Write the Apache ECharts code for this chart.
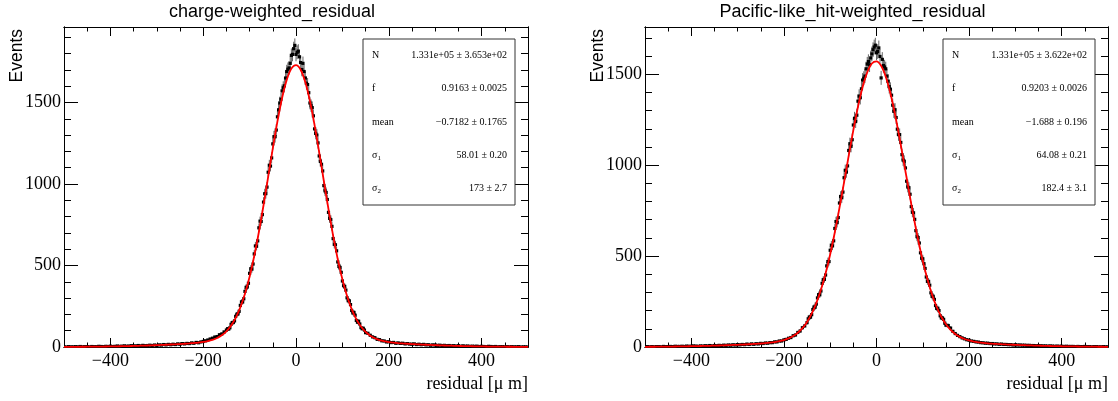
<!DOCTYPE html>
<html><head><meta charset="utf-8">
<script src="https://cdn.jsdelivr.net/npm/echarts@6/dist/echarts.min.js"></script>
<style>html,body{margin:0;padding:0;background:#fff}#c{width:1118px;height:401px}</style>
</head><body><div id="c"></div>
<script>
// ---------------- data ----------------
const panelTitles = ['charge-weighted_residual', 'Pacific-like_hit-weighted_residual'];
const xTickValues = [-400, -200, 0, 200, 400];
const yTickValues = [0, 500, 1000, 1500];
const yMaxValues = [1963, 1760];
const binStart = -500, binStep = 5;     // bin centres over the full range (µm)
const coreStart = -147.5, coreStep = 5; // extra bin centres in the core (µm)
const fitStart = -500, fitStep = 10;    // fit curve sample points (µm)

const countsCharge = [
 1,0,2,1,1,2,1,3,1,2, 2,1,3,2,2,4,3,2,4,3, 5,3,4,6,4,5,7,5,6,8, 6,7,9,7,10,8,9,11,9,12, 10,13,12,15,13,16,14,17,15,19,
 17,21,19,22,21,25,23,28,26,31, 34,38,43,49,54,61,64,75,80,92, 104,110,139,150,188,203,255,276,341,368,
 452,478,571,618,731,770,889,941,1072,1110, 1246,1290,1412,1497,1571,1602,1690,1712,1789,1830,
 1795,
 1815,1745,1740,1650,1610,1497,1468,1338,1300,1172, 1121,990,948,826,781,665,627,522,488,405,
 372,302,283,224,212,163,158,119,115,88, 84,72,62,57,47,45,38,37,31,32,
 27,28,23,25,22,23,19,21,18,17, 19,15,17,14,16,13,14,11,13,12,
 10,11,9,10,8,9,7,8,6,8, 5,7,5,6,4,5,4,5,3,4,
 3,2,4,3,2,3,1,2,2,1, 2,1,2,1,1,2,0,1,1,0
];
const countsChargeCore = [
 112,118,150,160,201,219,277,296,366,391, 480,509,620,651,772,812,940,981,1115,1160,
 1290,1331,1455,1520,1590,1650,1704,1740,1795,1850,
 1808,1780,1702,1690,1618,1560,1480,1418,1310,1252, 1138,1080,958,905,789,740,630,590,494,458,
 376,349,284,260,209,195,152,141,112,104
];
const countsPacific = [
 1,2,1,2,1,2,2,1,3,2, 2,3,2,4,3,3,4,3,5,4, 4,6,5,4,6,5,7,6,8,6, 8,7,9,8,10,9,11,10,12,11, 13,12,14,13,16,14,17,15,18,17,
 20,19,22,21,24,24,28,28,33,33, 39,42,48,52,62,66,80,88,106,116, 134,165,178,220,236,288,308,370,396,470,
 532,556,652,684,792,821,931,962,1081,1104, 1221,1240,1352,1371,1468,1490,1556,1552,1612,1650,
 1618,
 1645,1480,1548,1530,1462,1418,1330,1305,1198,1168, 1058,1022,912,876,772,738,640,602,518,485,
 432,361,340,279,262,212,200,160,152,120, 118,104,86,74,64,57,50,45,40,37,
 33,31,28,27,24,23,21,21,19,19, 17,17,15,16,14,14,13,13,11,12,
 11,11,10,10,9,9,8,8,7,7, 7,6,6,5,6,5,4,5,4,4,
 3,4,3,3,3,2,3,2,2,3, 2,2,1,2,2,1,1,2,1,1
];
const countsPacificCore = [
 155,164,206,219,270,287,350,372,446,470, 560,584,690,712,828,852,972,996,1118,1140,
 1258,1275,1380,1420,1478,1530,1570,1590,1635,1660,
 1625,1598,1582,1540,1490,1432,1385,1296,1262,1168, 1125,1028,985,880,840,741,702,607,572,488,
 458,385,361,298,279,228,213,172,160,131
];
const fitCharge = [
 0.8,1.0,1.1,1.3,1.5,1.7,2.0,2.3,2.7,3.1, 3.5,4.0,4.6,5.2,5.9,6.6,7.5,8.3,9.3,10.3,
 11.4,12.6,13.9,15.2,16.6,18.1,19.9,22.0,24.4,27.2, 31.0,36.5,44.2,55.6,72.3,96.6,131.1,178.9,243.0,326.6,
 431.4,558.2,705.5,869.6,1043.6,1218.8,1383.8,1527.5,1638.6,1707.6,
 1728.8,
 1700.6,1625.0,1508.7,1361.2,1194.0,1018.2,845.2,683.1,538.6,415.0,
 313.2,232.6,171.1,125.3,92.6,69.5,53.6,42.8,35.5,30.4, 26.8,24.0,21.7,19.8,18.0,16.5,15.1,13.8,12.5,11.3,
 10.2,9.2,8.3,7.4,6.6,5.8,5.2,4.6,4.0,3.5, 3.1,2.7,2.3,2.0,1.7,1.5,1.3,1.1,0.9,0.8
];
const fitPacific = [
 1.1,1.3,1.5,1.7,1.9,2.2,2.5,2.9,3.3,3.7, 4.3,4.8,5.4,6.0,6.7,7.5,8.3,9.1,10.2,11.2,
 12.2,13.3,14.5,16.0,17.5,19.2,21.3,23.9,27.2,31.9, 38.3,47.5,60.5,78.7,103.8,138.0,183.1,241.5,314.8,404.2,
 510.0,631.1,765.0,907.3,1052.3,1192.8,1321.2,1429.6,1510.8,1559.3,
 1571.1,
 1546.9,1486.8,1395.8,1279.8,1146.4,1003.5,858.7,718.6,588.7,472.4,
 372.2,288.2,220.1,166.5,125.2,94.4,71.9,55.5,44.1,35.9, 30.1,26.0,22.9,20.5,18.6,16.9,15.4,14.1,12.9,11.8,
 10.8,9.8,8.9,8.1,7.3,6.5,5.8,5.2,4.6,4.1, 3.7,3.3,2.9,2.5,2.2,1.9,1.7,1.5,1.3,1.1
];
const statNames = ['N', 'f', 'mean', 'σ1', 'σ2'];
const statsCharge = ['1.331e+05 ± 3.653e+02', '0.9163 ± 0.0025', '\u22120.7182 ± 0.1765', '58.01 ± 0.20', '173 ± 2.7'];
const statsPacific = ['1.331e+05 ± 3.622e+02', '0.9203 ± 0.0026', '\u22121.688 ± 0.196', '64.08 ± 0.21', '182.4 ± 3.1'];
const xTitle = 'residual [\u03bc m]';
const yTitle = 'Events';

// ---------------- layout ----------------
const frames = [
  {left: 64, top: 27, width: 464, height: 320},
  {left: 645, top: 27, width: 463, height: 320}
];
const SERIF = "'Liberation Serif','DejaVu Serif',serif";
const SANS = "'Liberation Sans','DejaVu Sans',sans-serif";
const fmt = v => v < 0 ? '\u2212' + (-v) : String(v);

const chart = echarts.init(document.getElementById('c'), null, {renderer: 'canvas'});
const xAxis = [], yAxis = [], series = [], graphic = [];
const black = {color: '#000', width: 1};

frames.forEach((f, g) => {
  const xb = {gridIndex: g, type: 'value', min: -500, max: 500,
    axisLine: {show: true, onZero: false, lineStyle: black}, splitLine: {show: false}};
  const x0 = xAxis.length;
  xAxis.push(
    Object.assign({}, xb, {position: 'bottom', interval: 50,
      axisTick: {inside: true, length: 4.5, lineStyle: black}, axisLabel: {show: false}}),
    Object.assign({}, xb, {position: 'bottom',
      axisTick: {inside: true, length: 9, customValues: xTickValues, lineStyle: black},
      axisLabel: {customValues: xTickValues, formatter: fmt, fontFamily: SERIF, fontSize: 18, color: '#000', margin: 5}}),
    Object.assign({}, xb, {position: 'top', interval: 50,
      axisTick: {inside: true, length: 4.5, lineStyle: black}, axisLabel: {show: false}}),
    Object.assign({}, xb, {position: 'top',
      axisTick: {inside: true, length: 9, customValues: xTickValues, lineStyle: black}, axisLabel: {show: false}})
  );
  const yb = {gridIndex: g, type: 'value', min: 0, max: yMaxValues[g],
    axisLine: {show: true, onZero: false, lineStyle: black}, splitLine: {show: false}};
  const y0 = yAxis.length;
  yAxis.push(
    Object.assign({}, yb, {position: 'left', interval: 100,
      axisTick: {inside: true, length: 7, lineStyle: black}, axisLabel: {show: false}}),
    Object.assign({}, yb, {position: 'left',
      axisTick: {inside: true, length: 14, customValues: yTickValues, lineStyle: black},
      axisLabel: {customValues: yTickValues, formatter: fmt, fontFamily: SERIF, fontSize: 18, color: '#000', margin: 3}}),
    Object.assign({}, yb, {position: 'right', interval: 100,
      axisTick: {inside: true, length: 7, lineStyle: black}, axisLabel: {show: false}}),
    Object.assign({}, yb, {position: 'right',
      axisTick: {inside: true, length: 14, customValues: yTickValues, lineStyle: black}, axisLabel: {show: false}})
  );

  const counts = g === 0 ? countsCharge : countsPacific;
  const core = g === 0 ? countsChargeCore : countsPacificCore;
  const fit = g === 0 ? fitCharge : fitPacific;
  const binData = counts.map((v, i) => [binStart + i * binStep, v, Math.sqrt(v)])
    .concat(core.map((v, i) => [coreStart + i * coreStep, v, Math.sqrt(v)]));
  const fitData = fit.map((v, i) => [fitStart + i * fitStep, v]);

  series.push({
    type: 'custom', xAxisIndex: x0, yAxisIndex: y0, clip: true, z: 3,
    data: binData,
    renderItem: (params, api) => {
      const x = api.value(0), y = api.value(1), e = api.value(2);
      const p = api.coord([x, y]);
      const lo = api.coord([x, Math.max(0, y - e)]);
      const hi = api.coord([x, y + e]);
      return {type: 'group', children: [
        {type: 'line', shape: {x1: p[0], y1: lo[1], x2: p[0], y2: hi[1]},
         style: {stroke: '#000', lineWidth: 1, opacity: 0.6}},
        {type: 'rect', shape: {x: p[0] - 1.6, y: p[1] - 1.6, width: 3.2, height: 3.2},
         style: {fill: '#000'}}
      ]};
    }
  });
  series.push({
    type: 'line', xAxisIndex: x0, yAxisIndex: y0, data: fitData, smooth: 0.35,
    symbol: 'none', clip: true, z: 5, lineStyle: {color: '#ff0000', width: 1.8}
  });

  // titles
  graphic.push({type: 'text', x: f.left + f.width / 2 - 24, y: 12, z: 100,
    style: {text: panelTitles[g], font: '18px ' + SANS, fill: '#000', align: 'center', verticalAlign: 'middle'}});
  graphic.push({type: 'text', x: f.left - 47, y: 29, rotation: Math.PI / 2, z: 100,
    style: {text: yTitle, font: '17.5px ' + SANS, fill: '#000', align: 'right', verticalAlign: 'middle'}});
  graphic.push({type: 'text', x: f.left + f.width, y: 384, z: 100,
    style: {text: xTitle, font: '18px ' + SERIF, fill: '#000', align: 'right', verticalAlign: 'middle'}});

  // stats box
  const bx = f.left + f.width - 165, by = 39, bw = 152, bh = 166;
  graphic.push({type: 'rect', x: bx, y: by, z: 100, shape: {width: bw, height: bh},
    style: {fill: '#fff', stroke: '#333', lineWidth: 1}});
  const vals = g === 0 ? statsCharge : statsPacific;
  statNames.forEach((n, i) => {
    const cy = by + bh / 10 * (2 * i + 1);
    let txt = n, rich;
    if (n.length === 2 && n[0] === 'σ') {
      txt = '{s|σ}{b|' + n[1] + '}';
      rich = {s: {font: '10px ' + SERIF, fill: '#000'}, b: {font: '7px ' + SERIF, fill: '#000', padding: [6, 0, 0, 0]}};
    }
    graphic.push({type: 'text', x: bx + 9, y: cy, z: 101,
      style: {text: txt, rich: rich, font: '10px ' + SERIF, fill: '#000', align: 'left', verticalAlign: 'middle'}});
    graphic.push({type: 'text', x: bx + bw - 8, y: cy, z: 101,
      style: {text: vals[i], font: '10px ' + SERIF, fill: '#000', align: 'right', verticalAlign: 'middle'}});
  });
});

chart.setOption({
  animation: false,
  backgroundColor: '#fff',
  grid: frames.map(f => Object.assign({containLabel: false}, f)),
  xAxis, yAxis, series, graphic
});
</script></body></html>
